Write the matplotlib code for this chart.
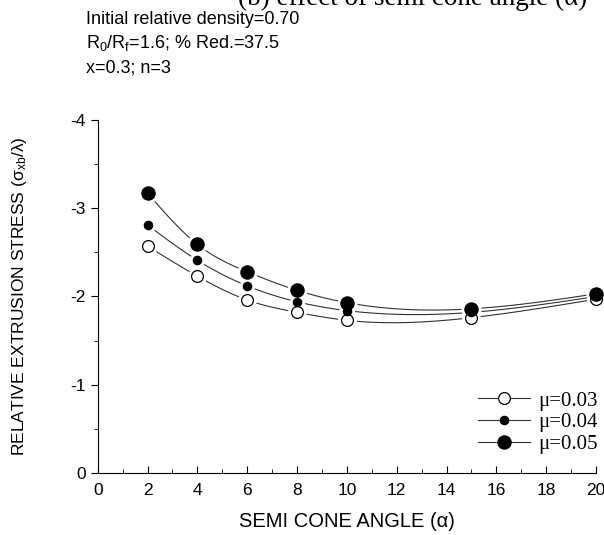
import numpy as np
import matplotlib
matplotlib.use("Agg")
from matplotlib import pyplot as plt

plt.rcParams['font.family'] = ['Liberation Sans', 'DejaVu Sans']
plt.rcParams['mathtext.default'] = 'regular'
plt.rcParams['axes.unicode_minus'] = False

# semi cone angle and relative extrusion stress for three friction values
angle = [2, 4, 6, 8, 10, 15, 20]
mu003 = [-2.57, -2.23, -1.96, -1.82, -1.73, -1.76, -1.97]
mu004 = [-2.81, -2.41, -2.12, -1.94, -1.84, -1.82, -2.00]
mu005 = [-3.17, -2.59, -2.28, -2.07, -1.93, -1.86, -2.03]
labels = ['\u03bc=0.03', '\u03bc=0.04', '\u03bc=0.05']


def spline(x, y, xs):
    # natural cubic spline through the points
    x = np.asarray(x, float)
    y = np.asarray(y, float)
    n = len(x)
    h = np.diff(x)
    A = np.zeros((n, n))
    b = np.zeros(n)
    A[0, 0] = A[-1, -1] = 1
    for i in range(1, n - 1):
        A[i, i - 1] = h[i - 1]
        A[i, i] = 2 * (h[i - 1] + h[i])
        A[i, i + 1] = h[i]
        b[i] = 6 * ((y[i + 1] - y[i]) / h[i] - (y[i] - y[i - 1]) / h[i - 1])
    M = np.linalg.solve(A, b)
    k = np.clip(np.searchsorted(x, xs) - 1, 0, n - 2)
    t0 = x[k + 1] - xs
    t1 = xs - x[k]
    return (M[k] * t0**3 + M[k + 1] * t1**3) / (6 * h[k]) \
        + (y[k] / h[k] - M[k] * h[k] / 6) * t0 \
        + (y[k + 1] / h[k] - M[k + 1] * h[k] / 6) * t1


fig = plt.figure(figsize=(6.04, 5.35), dpi=100)
ax = fig.add_axes([0.1618, 0.1159, 0.8250, 0.6598])

xs = np.linspace(angle[0], angle[-1], 300)
styles = [
    (mu003, 'white', 8.5),
    (mu004, 'black', 6.0),
    (mu005, 'black', 9.5),
]
for (vals, face, ms), lab in zip(styles, labels):
    ax.plot(xs, spline(angle, vals, xs), color='#333333', lw=0.8, zorder=2)
    ax.plot(angle, vals, ls='none', marker='o', ms=ms + 4, mfc='white',
            mec='white', zorder=3, clip_on=False)
    ax.plot(angle, vals, ls='none', marker='o', ms=ms, mfc=face,
            mec='black', mew=0.9, zorder=4, clip_on=False)
    ax.plot([], [], color='#333333', lw=0.8, marker='o', ms=ms, mfc=face,
            mec='black', mew=0.9, label=lab)

ax.set_xlim(0, 20)
ax.set_ylim(0, -4)
ax.set_xticks(range(0, 21, 2))
ax.set_xticks(range(0, 21, 1), minor=True)
ax.set_yticks([0, -1, -2, -3, -4])
ax.set_yticks(np.arange(0, -4.01, -0.5), minor=True)
ax.spines['top'].set_visible(False)
ax.spines['right'].set_visible(False)
ax.tick_params(axis='x', which='both', direction='in', labelsize=12.5, pad=7)
ax.tick_params(axis='y', which='both', direction='out', labelsize=12.5)
ax.tick_params(which='major', length=5)
ax.tick_params(which='minor', length=3)

ax.set_xlabel('SEMI CONE ANGLE (\u03b1)', fontsize=14.5, labelpad=10)
ax.set_ylabel('RELATIVE EXTRUSION STRESS (\u03c3$_{xb}$/\u03bb)', fontsize=12.5,
              labelpad=30)

ax.legend(loc='upper left', bbox_to_anchor=(478 / 604, 1 - 391 / 535),
          bbox_transform=fig.transFigure, frameon=False,
          borderaxespad=0, borderpad=0,
          prop={'family': 'Liberation Serif', 'size': 15},
          handlelength=2.5, handletextpad=0.4, labelspacing=0.1)

fig.text(0.394, 1 - 5 / 535, '(b) effect of semi cone angle (\u03b1)',
         family='Liberation Serif', fontsize=19.5, va='baseline')
fig.text(0.143, 1 - 24 / 535, 'Initial relative density=0.70',
         fontsize=13, va='baseline')
fig.text(0.143, 1 - 48 / 535, 'R$_0$/R$_f$=1.6; % Red.=37.5',
         fontsize=13, va='baseline')
fig.text(0.143, 1 - 72 / 535, 'x=0.3; n=3', fontsize=13, va='baseline')

fig.savefig('out.png', dpi=100)
